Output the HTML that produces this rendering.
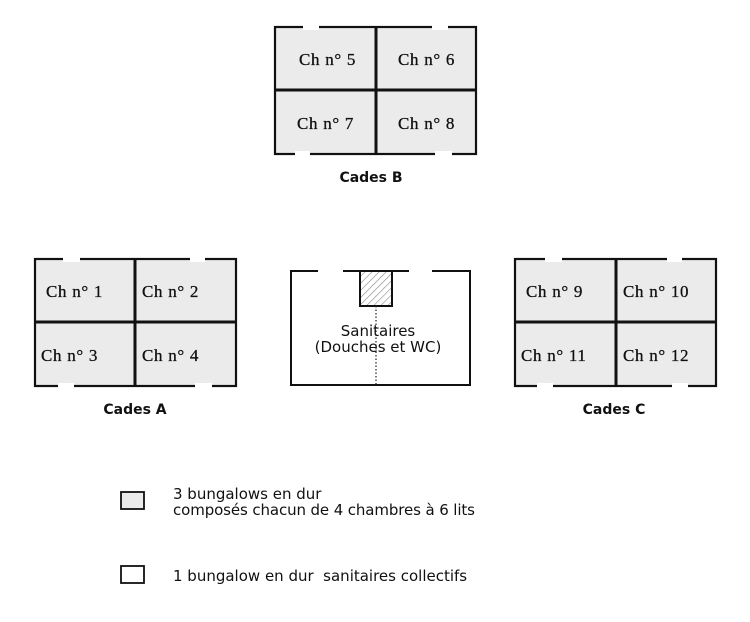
<!DOCTYPE html>
<html><head><meta charset="utf-8"><style>body{margin:0;background:#fff}svg{display:block}</style></head><body>
<svg width="750" height="622" viewBox="0 0 750 622" xmlns="http://www.w3.org/2000/svg">
<defs><pattern id="h" width="5" height="5" patternUnits="userSpaceOnUse" patternTransform="rotate(45)"><rect width="5" height="5" fill="#fff"/><line x1="0" y1="0" x2="0" y2="5" stroke="#888" stroke-width="1.2"/></pattern></defs>
<g stroke="#111" stroke-width="2.2" fill="#ebebeb">
<rect x="275" y="27" width="201" height="127"/><line x1="376" y1="27" x2="376" y2="154" stroke-width="3"/><line x1="275" y1="90" x2="476" y2="90" stroke-width="3"/>
<rect x="35" y="259" width="201" height="127"/><line x1="135" y1="259" x2="135" y2="386" stroke-width="3"/><line x1="35" y1="322" x2="236" y2="322" stroke-width="3"/>
<rect x="515" y="259" width="201" height="127"/><line x1="616" y1="259" x2="616" y2="386" stroke-width="3"/><line x1="515" y1="322" x2="716" y2="322" stroke-width="3"/>
<rect x="291" y="271" width="179" height="114" fill="#fff" stroke-width="2"/>
</g>
<g fill="#fff">
<rect x="303" y="24" width="16" height="6"/><rect x="432" y="24" width="16" height="6"/>
<rect x="295" y="151" width="15" height="6"/><rect x="435" y="151" width="17" height="6"/>
<rect x="63" y="256" width="17" height="6"/><rect x="190" y="256" width="15" height="6"/>
<rect x="58" y="383" width="16" height="6"/><rect x="195" y="383" width="17" height="6"/>
<rect x="545" y="256" width="17" height="6"/><rect x="667" y="256" width="15" height="6"/>
<rect x="537" y="383" width="16" height="6"/><rect x="672" y="383" width="16" height="6"/>
<rect x="318" y="268" width="25" height="6"/><rect x="409" y="268" width="23" height="6"/>
</g>
<rect x="360" y="271" width="32" height="35" fill="url(#h)" stroke="#111" stroke-width="2"/>
<line x1="376" y1="306" x2="376" y2="385" stroke="#333" stroke-width="1.3" stroke-dasharray="1.5,2"/>
<g font-family="Liberation Serif, serif" font-size="17" fill="#111" stroke="#111" stroke-width="0.3" letter-spacing="0.7">
<text x="299" y="65">Ch n° 5</text><text x="398" y="65">Ch n° 6</text>
<text x="297" y="129">Ch n° 7</text><text x="398" y="129">Ch n° 8</text>
<text x="46" y="297">Ch n° 1</text><text x="142" y="297">Ch n° 2</text>
<text x="41" y="361">Ch n° 3</text><text x="142" y="361">Ch n° 4</text>
<text x="526" y="297">Ch n° 9</text><text x="623" y="297">Ch n° 10</text>
<text x="521" y="361">Ch n° 11</text><text x="623" y="361">Ch n° 12</text>
</g>
<g font-family="DejaVu Sans, sans-serif" fill="#111">
<text x="378" y="336" font-size="15" text-anchor="middle">Sanitaires</text>
<text x="378" y="352" font-size="15" text-anchor="middle">(Douches et WC)</text>
<g font-weight="bold" font-size="14"><text x="371" y="182" text-anchor="middle">Cades B</text><text x="135" y="414" text-anchor="middle">Cades A</text><text x="614" y="414" text-anchor="middle">Cades C</text></g>
<g font-size="15"><text x="173" y="499">3 bungalows en dur</text><text x="173" y="515" textLength="302">composés chacun de 4 chambres à 6 lits</text><text x="173" y="581">1 bungalow en dur &#160;sanitaires collectifs</text></g>
</g>
<rect x="121" y="492" width="23" height="17" fill="#ebebeb" stroke="#111" stroke-width="1.8"/>
<rect x="121" y="566" width="23" height="17" fill="#fff" stroke="#111" stroke-width="1.8"/>
</svg>
</body></html>
